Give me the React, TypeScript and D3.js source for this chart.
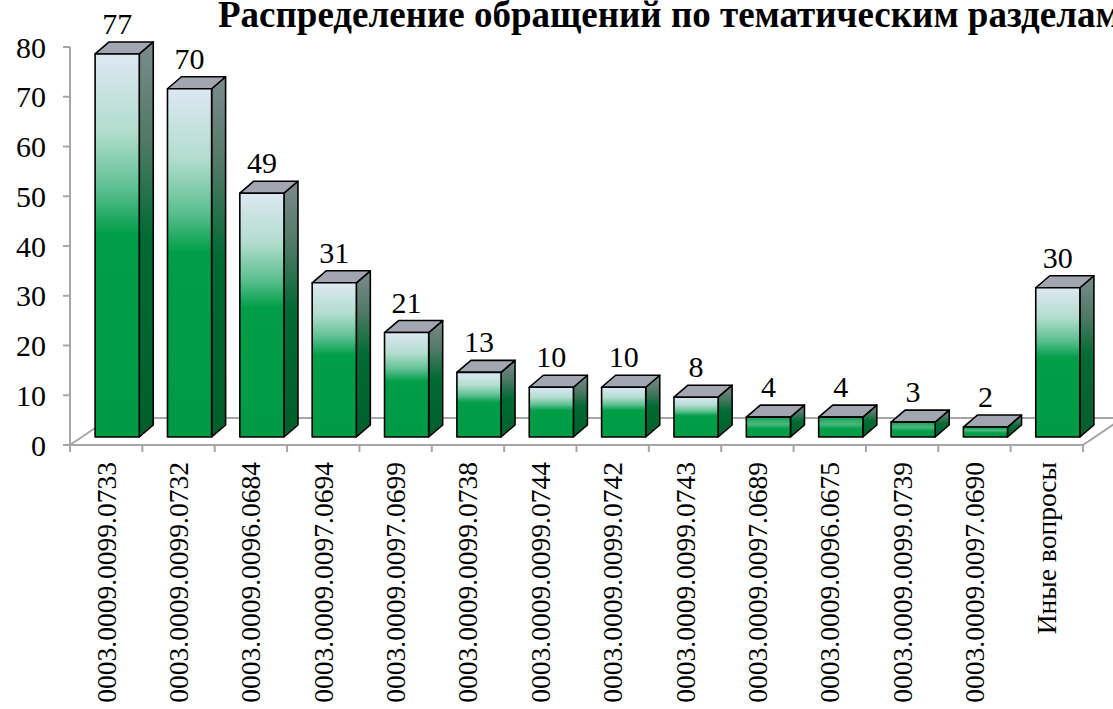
import React from "react";
import * as d3 from "d3";

const categories = [
  "0003.0009.0099.0733",
  "0003.0009.0099.0732",
  "0003.0009.0096.0684",
  "0003.0009.0097.0694",
  "0003.0009.0097.0699",
  "0003.0009.0099.0738",
  "0003.0009.0099.0744",
  "0003.0009.0099.0742",
  "0003.0009.0099.0743",
  "0003.0009.0097.0689",
  "0003.0009.0096.0675",
  "0003.0009.0099.0739",
  "0003.0009.0097.0690",
  "Иные вопросы",
];
const values = [77, 70, 49, 31, 21, 13, 10, 10, 8, 4, 4, 3, 2, 30];
const yTicks = [0, 10, 20, 30, 40, 50, 60, 70, 80];
const title = "Распределение обращений по тематическим разделам";

const W = 1113;
const H = 709;
const FONT = "'Liberation Serif', 'Times New Roman', serif";

export default function App() {
  const x = d3.scaleBand<string>().domain(categories).range([70, 1083]).padding(0);
  const y = d3.scaleLinear().domain([0, 80]).range([445, 47]);
  const bw = x.bandwidth();
  const barW = bw * 0.61;
  const floorDx = 40, floorDy = -27;
  const barOffX = 11, barOffY = -8;
  const depthX = 14, depthY = -12;
  const x0 = 70, x1 = 1083, y0 = y(0);

  return (
    <svg
      width={W}
      height={H}
      style={{ position: "absolute", left: 0, top: 0, background: "#fff" }}
      fontFamily={FONT}
    >
      <defs>
        <linearGradient id="front" x1="0" y1="0" x2="0" y2="1">
          <stop offset="0" stopColor="#dde8f2" />
          <stop offset="0.2" stopColor="#b3ddcf" />
          <stop offset="0.35" stopColor="#5fc092" />
          <stop offset="0.47" stopColor="#009e48" />
          <stop offset="1" stopColor="#009a45" />
        </linearGradient>
        <linearGradient id="frontSmall" x1="0" y1="0" x2="0" y2="1">
          <stop offset="0" stopColor="#139f52" />
          <stop offset="0.35" stopColor="#4cb87c" />
          <stop offset="0.6" stopColor="#009e48" />
          <stop offset="1" stopColor="#009a45" />
        </linearGradient>
        <linearGradient id="side" x1="0" y1="0" x2="0" y2="1">
          <stop offset="0" stopColor="#7d8b8c" />
          <stop offset="0.25" stopColor="#4f7966" />
          <stop offset="0.5" stopColor="#006b33" />
          <stop offset="1" stopColor="#005f2c" />
        </linearGradient>
      </defs>

      <text x={218} y={27} fontSize={37} fontWeight="bold" fill="#000">
        {title}
      </text>

      <g stroke="#a6a6a6" strokeWidth={2} fill="none">
        <line x1={x0} y1={y0} x2={x0 + floorDx} y2={y0 + floorDy} />
        <line x1={x0 + floorDx} y1={y0 + floorDy} x2={x1 + floorDx} y2={y0 + floorDy} />
        <line x1={x1} y1={y0} x2={x1 + floorDx} y2={y0 + floorDy} />
        <line x1={x0} y1={y0} x2={x1} y2={y0} />
        {categories.map((c, i) => (
          <line key={"t" + i} x1={x(c)!} y1={y0} x2={x(c)!} y2={y0 + 7} />
        ))}
        <line x1={x1} y1={y0} x2={x1} y2={y0 + 7} />
        <line x1={x0} y1={y(80)} x2={x0} y2={y0} />
        {yTicks.map((t) => (
          <line key={"yt" + t} x1={x0 - 7} y1={y(t)} x2={x0} y2={y(t)} />
        ))}
      </g>

      {yTicks.map((t) => (
        <text
          key={"yl" + t}
          x={46}
          y={y(t)}
          fontSize={30}
          textAnchor="end"
          dominantBaseline="central"
          fill="#000"
        >
          {t}
        </text>
      ))}

      {categories.map((c, i) => {
        const v = values[i];
        const fx = x(c)! + (bw - barW) / 2 + barOffX;
        const fTop = y(v) + barOffY;
        const fBot = y0 + barOffY;
        const topPts: [number, number][] = [
          [fx, fTop],
          [fx + depthX, fTop + depthY],
          [fx + barW + depthX, fTop + depthY],
          [fx + barW, fTop],
        ];
        const sidePts: [number, number][] = [
          [fx + barW, fTop],
          [fx + barW + depthX, fTop + depthY],
          [fx + barW + depthX, fBot + depthY],
          [fx + barW, fBot],
        ];
        const line = d3.line();
        const small = fBot - fTop < 30;
        return (
          <g key={"b" + i} stroke="#000" strokeWidth={1.6} strokeLinejoin="round">
            <path d={line(sidePts)! + "Z"} fill="url(#side)" />
            <path d={line(topPts)! + "Z"} fill="#a2a6b1" />
            <rect
              x={fx}
              y={fTop}
              width={barW}
              height={fBot - fTop}
              fill={small ? "url(#frontSmall)" : "url(#front)"}
            />
            <text
              x={fx + barW / 2}
              y={fTop - 20}
              fontSize={30}
              textAnchor="middle"
              stroke="none"
              fill="#000"
            >
              {v}
            </text>
          </g>
        );
      })}

      {categories.map((c, i) => {
        const cx = x(c)! + bw / 2;
        return (
          <text
            key={"c" + i}
            transform={`translate(${cx},${462}) rotate(-90)`}
            fontSize={27.5}
            textAnchor="end"
            dominantBaseline="central"
            fill="#000"
          >
            {c}
          </text>
        );
      })}
    </svg>
  );
}
